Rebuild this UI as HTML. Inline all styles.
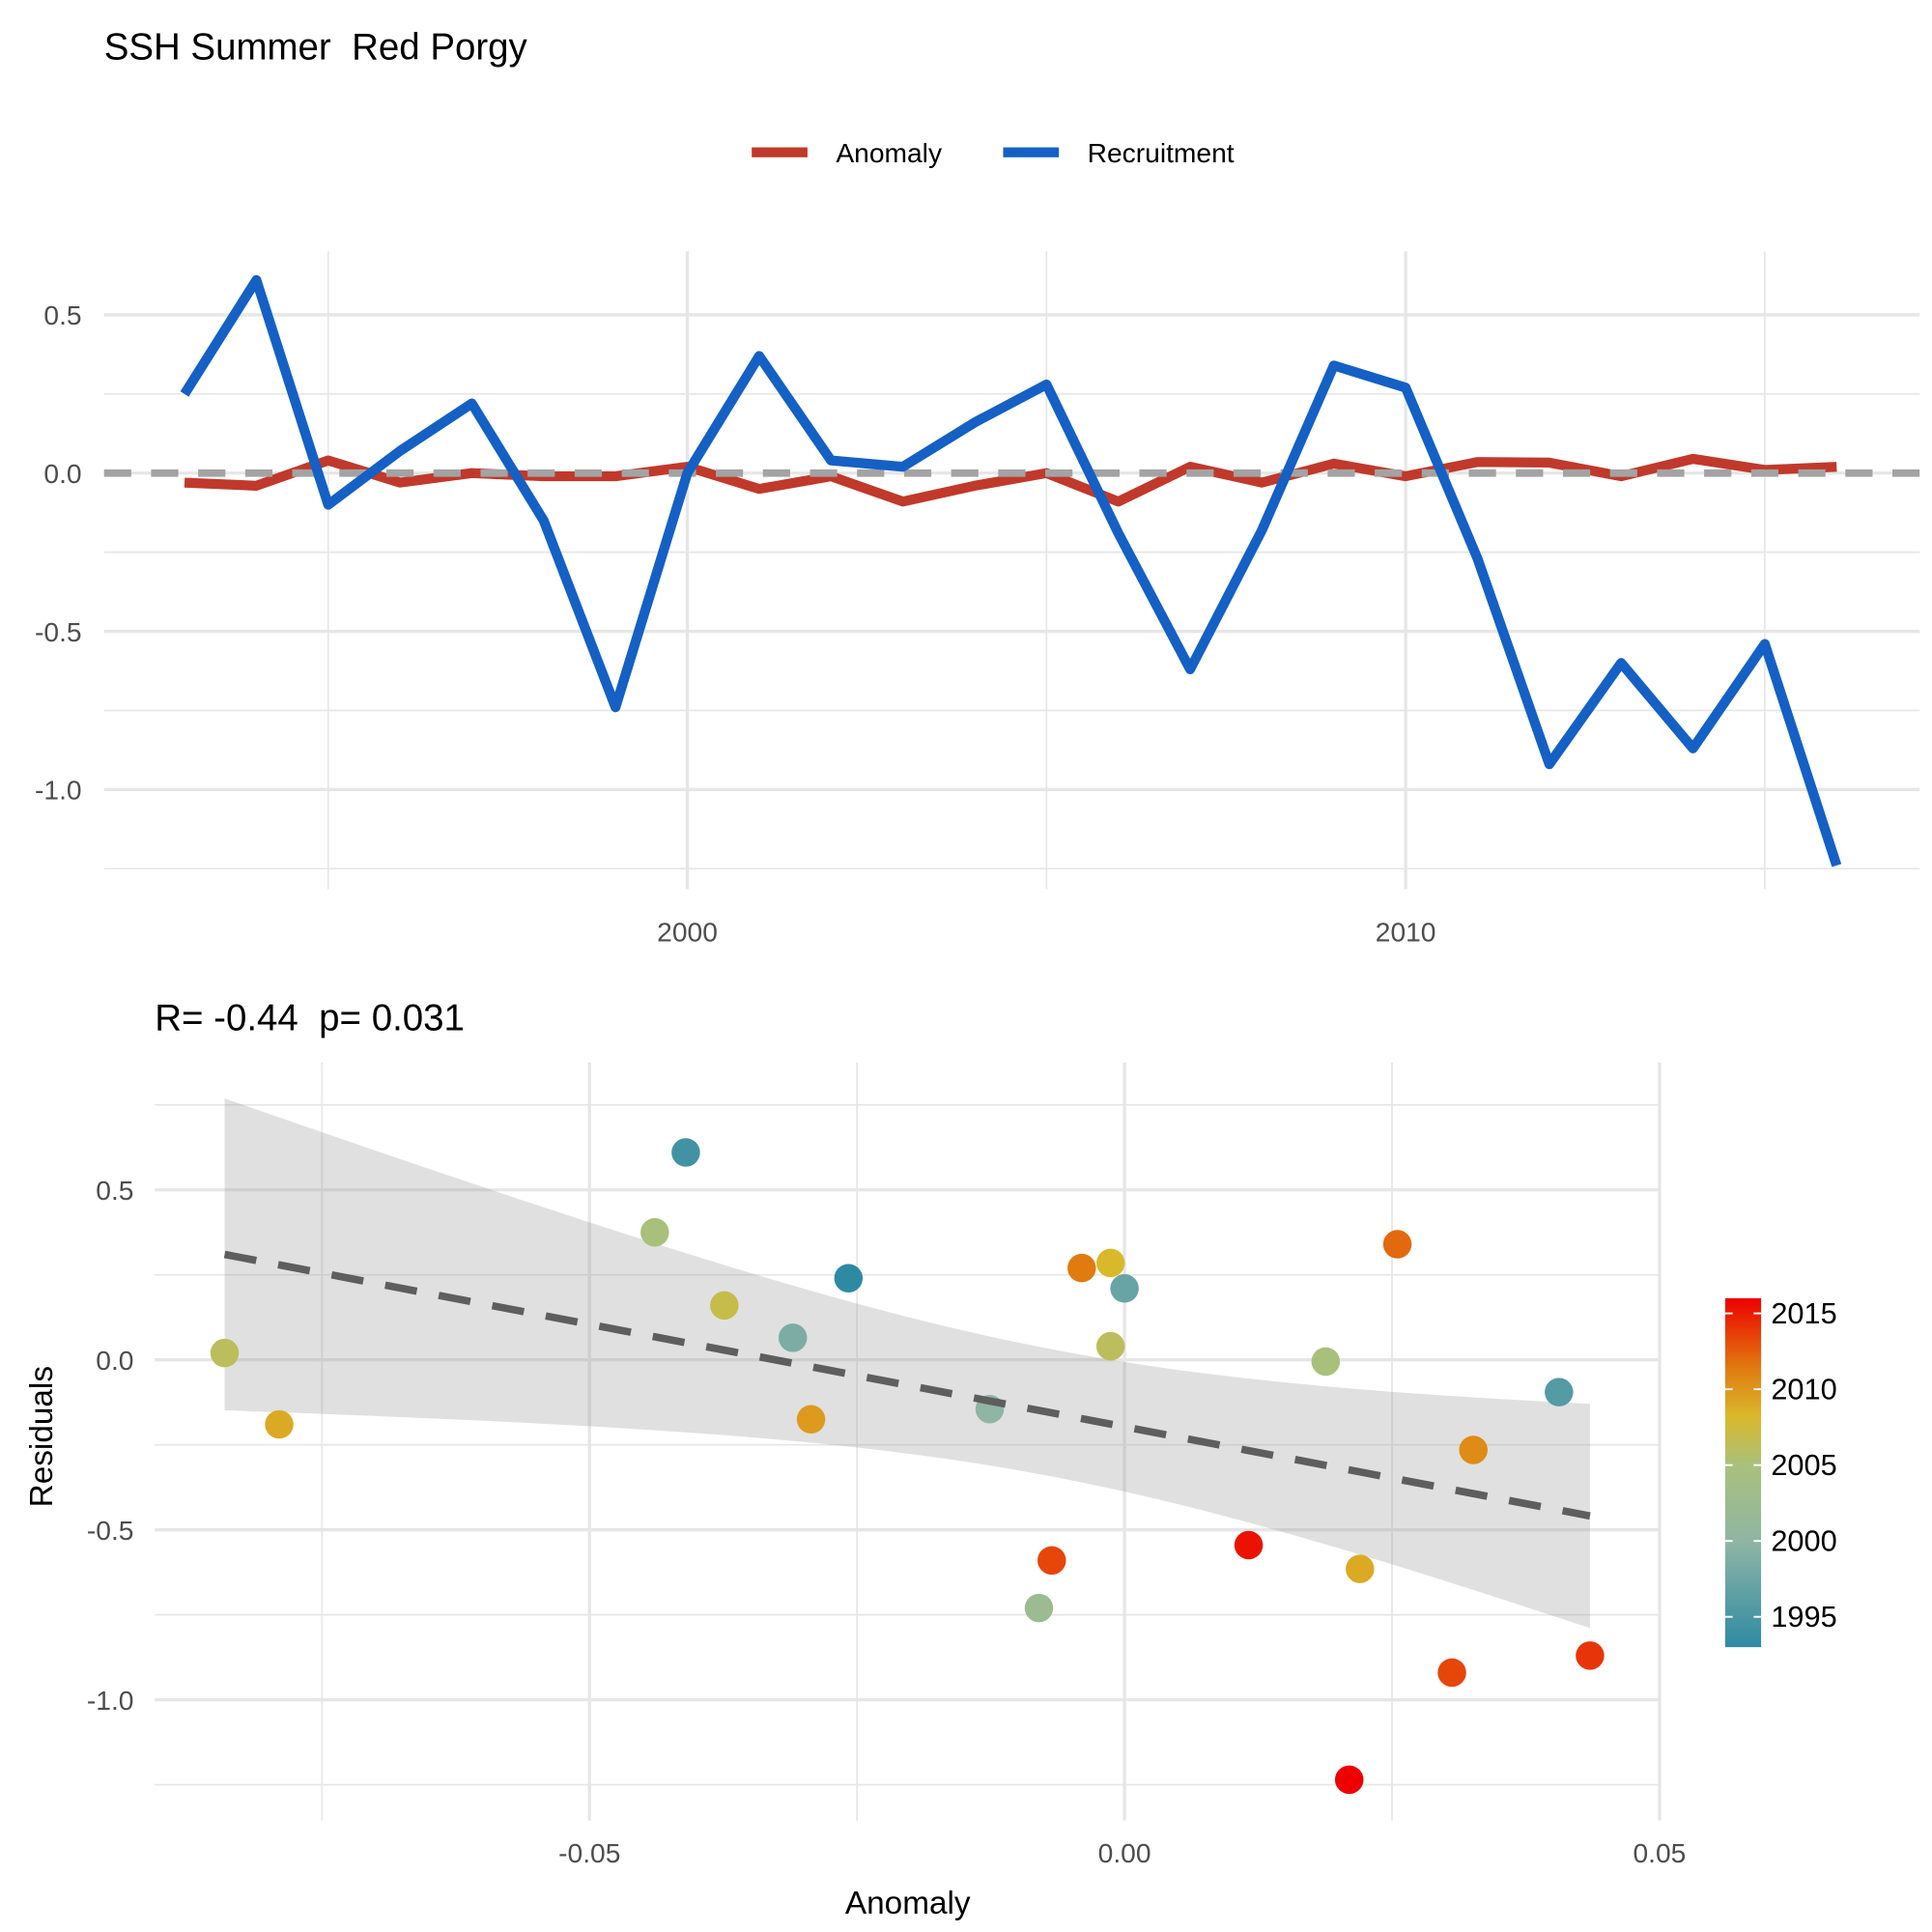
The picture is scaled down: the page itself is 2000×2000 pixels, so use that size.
<!DOCTYPE html>
<html><head><meta charset="utf-8"><style>
html,body{margin:0;padding:0;background:#fff;}
svg{display:block;font-family:"Liberation Sans",Arial,sans-serif;}
text{white-space:pre;}
</style></head><body>
<svg id="chart" width="2000" height="2000" viewBox="0 0 1560 1560" xmlns="http://www.w3.org/2000/svg">
<defs>
<clipPath id="topclip"><rect x="84" y="203" width="1476" height="505"/></clipPath>
<linearGradient id="cbar" x1="0" y1="1" x2="0" y2="0">
<stop offset="0" stop-color="#2e8aa3"/>
<stop offset="0.3" stop-color="#8fb5a4"/>
<stop offset="0.52" stop-color="#a9c07c"/>
<stop offset="0.66" stop-color="#d9b92c"/>
<stop offset="0.8" stop-color="#e07b10"/>
<stop offset="1" stop-color="#ee0000"/>
</linearGradient>
</defs>
<text x="84" y="48" font-size="30" fill="#000" xml:space="preserve">SSH Summer  Red Porgy</text>
<g id="legend">
<rect x="607" y="119" width="45" height="8" fill="#c0392b"/>
<text x="675" y="131" font-size="22">Anomaly</text>
<rect x="810" y="119" width="45" height="8" fill="#1560c4"/>
<text x="878" y="131" font-size="22">Recruitment</text>
</g>
<g id="topPanel"></g>
<text x="1368" y="196" font-size="32" font-weight="bold" fill="#000" clip-path="url(#topclip)">p= 0.031</text>
<text x="125" y="832" font-size="30" fill="#000" xml:space="preserve">R= -0.44  p= 0.031</text>
<g id="bottomPanel"></g>
<text transform="translate(42,1160) rotate(-90)" text-anchor="middle" font-size="26">Residuals</text>
<text x="733" y="1545" text-anchor="middle" font-size="26">Anomaly</text>
<g id="colorbar"></g>
</svg>
<script>
const years = [1993,1994,1995,1996,1997,1998,1999,2000,2001,2002,2003,2004,2005,2006,2007,2008,2009,2010,2011,2012,2013,2014,2015,2016];
const recruitment = [0.25,0.61,-0.10,0.07,0.22,-0.15,-0.74,0.0,0.37,0.04,0.02,0.16,0.28,-0.19,-0.62,-0.18,0.34,0.27,-0.27,-0.92,-0.60,-0.87,-0.54,-1.24];
const anomaly = [-0.03,-0.04,0.04,-0.03,0.0,-0.01,-0.01,0.02,-0.05,-0.01,-0.09,-0.04,0.0,-0.09,0.02,-0.03,0.03,-0.01,0.035,0.033,-0.01,0.045,0.01,0.02];
const topYTicks = [0.5,0.0,-0.5,-1.0];
const topXTicks = [2000,2010];

const scatterX = [-0.0841,-0.079,-0.041,-0.0439,-0.0374,-0.031,-0.0293,-0.0258,-0.0126,-0.008,-0.0068,-0.004,-0.0013,0.0,-0.0013,0.0116,0.0188,0.021,0.022,0.0255,0.0306,0.0326,0.0406,0.0435];
const scatterY = [0.02,-0.19,0.61,0.375,0.16,0.065,-0.175,0.24,-0.145,-0.73,-0.59,0.27,0.285,0.21,0.04,-0.545,-0.005,-1.235,-0.615,0.34,-0.92,-0.265,-0.095,-0.87];
const scatterYear = [2002,2006,1994,2000,2003,1997,2007,1993,1998,1999,2012,2009,2005,1996,2002,2015,2000,2016,2006,2010,2012,2008,1995,2013];
const fitSlope = -6.03, fitIntercept = -0.197;
const bandMin = 0.035, bandCurv = 29.3, bandCenter = -0.0067;
const botXTicks = [-0.05,0.0,0.05];
const botYTicks = [0.5,0.0,-0.5,-1.0];
const cbarTicks = [1995,2000,2005,2010,2015];

const NS = "http://www.w3.org/2000/svg";
function mk(parent, tag, attrs){const e=document.createElementNS(NS,tag);for(const k in attrs)e.setAttribute(k,attrs[k]);parent.appendChild(e);return e;}

const tx = y => 555 + (y-2000)*58;
const ty = v => 382 - v*255.5;
const topG = document.getElementById('topPanel');
for (let v=0.5; v>=-1.26; v-=0.25){
  const major = Math.abs(v*2-Math.round(v*2))<1e-9;
  const l = mk(topG,'line',{x1:84,x2:1550,y1:ty(v),y2:ty(v),stroke:'#e6e6e6','stroke-width':major?2.6:1.3});
  
  
}
[1995,2000,2005,2010,2015].forEach(y=>{
  const l = mk(topG,'line',{x1:tx(y),x2:tx(y),y1:203,y2:718,stroke:'#e6e6e6','stroke-width':(y%10===0)?2.6:1.3});
  
  
});
topYTicks.forEach(v=>{
  const t = mk(topG,'text',{x:66,y:ty(v)+8,'text-anchor':'end','font-size':22,fill:'#4d4d4d'});
  t.textContent = v.toFixed(1);
  
  
});
topXTicks.forEach(y=>{
  const t = mk(topG,'text',{x:tx(y),y:760,'text-anchor':'middle','font-size':22,fill:'#4d4d4d'});
  t.textContent = y;
  
  
});
const an = mk(topG,'polyline',{points:years.map((y,i)=>tx(y)+','+ty(anomaly[i])).join(' '),fill:'none',stroke:'#c0392b','stroke-width':8,'stroke-linejoin':'round'});


const zl = mk(topG,'line',{x1:84,x2:1550,y1:ty(0),y2:ty(0),stroke:'#a3a3a3','stroke-width':6,'stroke-dasharray':'22 16'});


const rc = mk(topG,'polyline',{points:years.map((y,i)=>tx(y)+','+ty(recruitment[i])).join(' '),fill:'none',stroke:'#1560c4','stroke-width':8,'stroke-linejoin':'round'});



const bx = a => 908 + a*8640;
const by = v => 1098 - v*274.5;
const botG = document.getElementById('bottomPanel');
for (let v=0.75; v>=-1.26; v-=0.25){
  const major = Math.abs(v*2-Math.round(v*2))<1e-9;
  const l = mk(botG,'line',{x1:125,x2:1340,y1:by(v),y2:by(v),stroke:'#e6e6e6','stroke-width':major?2.6:1.3});
  
  
}
[-0.075,-0.05,-0.025,0,0.025,0.05].forEach(a=>{
  const major = Math.abs(a*20-Math.round(a*20))<1e-9;
  const l = mk(botG,'line',{x1:bx(a),x2:bx(a),y1:858,y2:1470,stroke:'#e6e6e6','stroke-width':major?2.6:1.3});
  
  
});
botYTicks.forEach(v=>{
  const t = mk(botG,'text',{x:108,y:by(v)+8,'text-anchor':'end','font-size':22,fill:'#4d4d4d'});
  t.textContent = v.toFixed(1);
  
  
});
botXTicks.forEach(a=>{
  const t = mk(botG,'text',{x:bx(a),y:1504,'text-anchor':'middle','font-size':22,fill:'#4d4d4d'});
  t.textContent = a.toFixed(2);
  
  
});
const xmin = Math.min(...scatterX), xmax = Math.max(...scatterX);
const N = 60, up=[], lo=[];
for (let i=0;i<=N;i++){
  const a = xmin + (xmax-xmin)*i/N;
  const c = fitIntercept + fitSlope*a;
  const hw = Math.sqrt(bandMin + bandCurv*(a-bandCenter)*(a-bandCenter));
  up.push(bx(a)+','+by(c+hw)); lo.unshift(bx(a)+','+by(c-hw));
}
const band = mk(botG,'polygon',{points:up.concat(lo).join(' '),fill:'#999','fill-opacity':0.3});



const stops = [[1993,[46,138,163]],[1998,[143,181,164]],[2000,[169,192,124]],[2005,[217,185,44]],[2009,[224,123,16]],[2016,[238,0,0]]];
function ycol(y){
  for (let i=0;i<stops.length-1;i++){
    const s0=stops[i], s1=stops[i+1];
    if (y<=s1[0]){const t=(y-s0[0])/(s1[0]-s0[0]);return 'rgb('+s0[1].map((c,k)=>Math.round(c+(s1[1][k]-c)*t)).join(',')+')';}
  }
  return 'rgb(238,0,0)';
}
scatterX.forEach((a,i)=>{
  const c = mk(botG,'circle',{cx:bx(a),cy:by(scatterY[i]),r:11.5,fill:ycol(scatterYear[i])});
  
  
});
const fl = mk(botG,'line',{x1:bx(xmin),y1:by(fitIntercept+fitSlope*xmin),x2:bx(xmax),y2:by(fitIntercept+fitSlope*xmax),stroke:'#5e5e5e','stroke-width':6,'stroke-dasharray':'26 18'});



const cb = document.getElementById('colorbar');
const cy = y => 1330 - (y-1993)*12.25;
const r = mk(cb,'rect',{x:1393,y:cy(2016),width:29,height:cy(1993)-cy(2016),fill:'url(#cbar)'});


cbarTicks.forEach(y=>{
  const l1 = mk(cb,'line',{x1:1393,x2:1399,y1:cy(y),y2:cy(y),stroke:'#fff','stroke-width':1.5});
  
  
  const l2 = mk(cb,'line',{x1:1416,x2:1422,y1:cy(y),y2:cy(y),stroke:'#fff','stroke-width':1.5});
  
  
  const t = mk(cb,'text',{x:1430,y:cy(y)+8,'font-size':24,fill:'#000'});
  t.textContent = y;
  
  
});
</script>
</body></html>
